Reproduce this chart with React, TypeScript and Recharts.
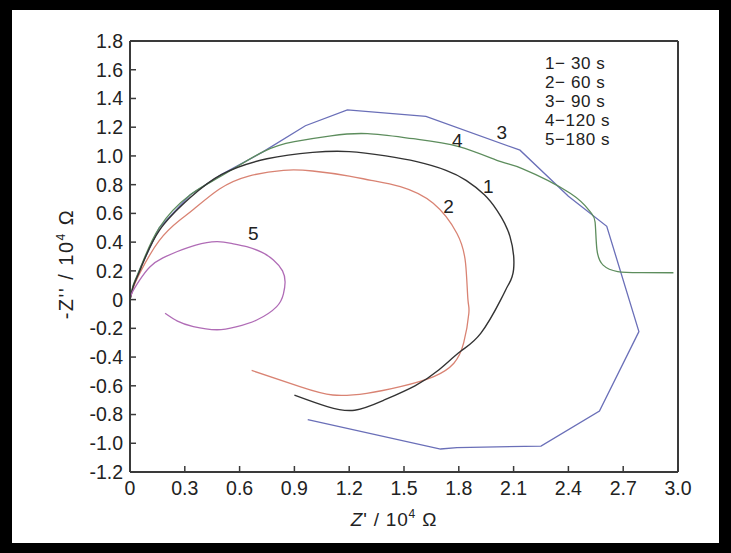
import React from "react";
import { LineChart, Line, XAxis, YAxis, ReferenceLine, ReferenceDot } from "recharts";

type Pt = { x: number; y: number };
const toPts = (rows: number[][]): Pt[] => rows.map(([x, y]) => ({ x, y }));

// Z' / Z'' (units 10^4 ohm)
const curve30s = toPts([
  [0, 0], [0.02, 0.1], [0.06, 0.22], [0.16, 0.48], [0.33, 0.71], [0.5, 0.87],
  [0.75, 0.98], [1.0, 1.025], [1.2, 1.03], [1.4, 1.0], [1.57, 0.96], [1.73, 0.9],
  [1.84, 0.83], [1.94, 0.73], [2.01, 0.62], [2.08, 0.44], [2.1, 0.21], [2.07, 0.1],
  [2.03, 0.0], [1.92, -0.235], [1.81, -0.36], [1.69, -0.49], [1.56, -0.6],
  [1.39, -0.7], [1.23, -0.77], [1.08, -0.745], [0.9, -0.665],
]);

const curve60s = toPts([
  [0, 0], [0.02, 0.09], [0.06, 0.2], [0.16, 0.41], [0.27, 0.55], [0.35, 0.63],
  [0.49, 0.77], [0.65, 0.86], [0.84, 0.9], [1.0, 0.895], [1.2, 0.86], [1.32, 0.83],
  [1.48, 0.786], [1.66, 0.67], [1.79, 0.46], [1.837, 0.253], [1.85, 0.0],
  [1.855, -0.095], [1.827, -0.3], [1.773, -0.443], [1.663, -0.536], [1.48, -0.606],
  [1.296, -0.652], [1.11, -0.664], [0.93, -0.606], [0.666, -0.493],
]);

const curve90s = toPts([
  [0, 0], [0.02, 0.1], [0.06, 0.23], [0.16, 0.5], [0.33, 0.73], [0.5, 0.87],
  [0.73, 1.03], [0.96, 1.21], [1.19, 1.32], [1.62, 1.275], [2.135, 1.04],
  [2.4, 0.72], [2.61, 0.51], [2.786, -0.223], [2.57, -0.775], [2.25, -1.02],
  [1.79, -1.03], [1.7, -1.04], [0.973, -0.836],
]);

const curve120s = toPts([
  [0, 0], [0.02, 0.11], [0.06, 0.23], [0.16, 0.5], [0.33, 0.73], [0.5, 0.86],
  [0.73, 1.03], [0.9, 1.1], [1.1, 1.14], [1.3, 1.155], [1.55, 1.12], [1.8, 1.065],
  [2.03, 0.96], [2.15, 0.91], [2.41, 0.74], [2.52, 0.61], [2.546, 0.54],
  [2.556, 0.35], [2.59, 0.24], [2.67, 0.195], [2.8, 0.188], [2.975, 0.187],
]);

const curve180s = toPts([
  [0, 0], [0.01, 0.044], [0.05, 0.13], [0.11, 0.229], [0.18, 0.29], [0.256, 0.333],
  [0.36, 0.38], [0.475, 0.403], [0.56, 0.39], [0.639, 0.368], [0.72, 0.33],
  [0.785, 0.276], [0.835, 0.2], [0.849, 0.12], [0.84, 0.04], [0.803, -0.049],
  [0.694, -0.142], [0.58, -0.19], [0.475, -0.21], [0.347, -0.188], [0.26, -0.15],
  [0.192, -0.095],
]);

const xTicks = [0, 0.3, 0.6, 0.9, 1.2, 1.5, 1.8, 2.1, 2.4, 2.7, 3.0];
const yTicks = [-1.2, -1.0, -0.8, -0.6, -0.4, -0.2, 0, 0.2, 0.4, 0.6, 0.8, 1.0, 1.2, 1.4, 1.6, 1.8];

const legendLines = ["1\u2212 30 s", "2\u2212 60 s", "3\u2212 90 s", "4\u2212120 s", "5\u2212180 s"];

const curveTags = [
  { id: "1", x: 1.962, y: 0.786 },
  { id: "2", x: 1.744, y: 0.647 },
  { id: "3", x: 2.036, y: 1.168 },
  { id: "4", x: 1.792, y: 1.111 },
  { id: "5", x: 0.675, y: 0.461 },
];

const FONT = '"Liberation Sans", Arial, sans-serif';
const AXIS = "#3a3a3a";
const TEXT = "#222";

const fmt = (v: number) => (v === 0 ? "0" : v.toFixed(1));

export default function App() {
  return (
    <div
      style={{
        position: "absolute",
        left: 0,
        top: 0,
        width: 731,
        height: 553,
        background: "#000",
        fontFamily: FONT,
      }}
    >
      <div style={{ position: "absolute", left: 12, top: 10, right: 12, bottom: 10, background: "#fff" }} />
      <div style={{ position: "absolute", left: 0, top: 0 }}>
        <LineChart width={731} height={553} margin={{ top: 41, right: 53, bottom: 51, left: 80 }}>
          <XAxis
            type="number"
            dataKey="x"
            domain={[0, 3]}
            ticks={xTicks}
            interval={0}
            allowDataOverflow
            tickFormatter={fmt}
            height={30}
            tickSize={-6}
            tickMargin={15}
            axisLine={{ stroke: AXIS, strokeWidth: 2 }}
            tickLine={{ stroke: AXIS, strokeWidth: 1.5 }}
            tick={{ fill: TEXT, fontSize: 19.5, fontFamily: FONT }}
          />
          <YAxis
            type="number"
            dataKey="y"
            domain={[-1.2, 1.8]}
            ticks={yTicks}
            interval={0}
            allowDataOverflow
            tickFormatter={fmt}
            width={50}
            tickSize={-6}
            tickMargin={13}
            axisLine={{ stroke: AXIS, strokeWidth: 2 }}
            tickLine={{ stroke: AXIS, strokeWidth: 1.5 }}
            tick={{ fill: TEXT, fontSize: 19.5, fontFamily: FONT }}
          />
          <ReferenceLine y={1.8} stroke={AXIS} strokeWidth={2} />
          <ReferenceLine x={3} stroke={AXIS} strokeWidth={2} />
          <Line data={curve90s} dataKey="y" type="linear" stroke="#6a6fb8" strokeWidth={1.3} dot={false} isAnimationActive={false} />
          <Line data={curve120s} dataKey="y" type="natural" stroke="#5d8d5d" strokeWidth={1.3} dot={false} isAnimationActive={false} />
          <Line data={curve60s} dataKey="y" type="natural" stroke="#d98373" strokeWidth={1.3} dot={false} isAnimationActive={false} />
          <Line data={curve30s} dataKey="y" type="natural" stroke="#333" strokeWidth={1.4} dot={false} isAnimationActive={false} />
          <Line data={curve180s} dataKey="y" type="natural" stroke="#b06cb6" strokeWidth={1.3} dot={false} isAnimationActive={false} />
          {curveTags.map((t) => (
            <ReferenceDot
              key={t.id}
              x={t.x}
              y={t.y}
              r={1}
              fill="none"
              stroke="none"
              label={{ value: t.id, position: "center", fill: TEXT, fontSize: 19, fontFamily: FONT }}
            />
          ))}
        </LineChart>
      </div>
      <svg width={731} height={553} style={{ position: "absolute", left: 0, top: 0, pointerEvents: "none" }}>
        {legendLines.map((s, i) => (
          <text key={s} x={545} y={69 + i * 19} fontSize={17} letterSpacing={0.6} fill={TEXT} fontFamily={FONT}>
            {s}
          </text>
        ))}
        <text x={394} y={526} fontSize={19} letterSpacing={0.8} fill={TEXT} fontFamily={FONT} textAnchor="middle">
          <tspan fontStyle="italic">Z</tspan>
          <tspan>{"' / 10"}</tspan>
          <tspan fontSize={12} dy={-8}>4</tspan>
          <tspan dy={8}>{" \u03A9"}</tspan>
        </text>
        <text
          x={0}
          y={0}
          fontSize={20}
          letterSpacing={1.5}
          fill={TEXT}
          fontFamily={FONT}
          textAnchor="middle"
          transform="translate(73 264) rotate(-90)"
        >
          <tspan>{"-Z'' / 10"}</tspan>
          <tspan fontSize={12} dy={-8}>4</tspan>
          <tspan dy={8}>{" \u03A9"}</tspan>
        </text>
      </svg>
    </div>
  );
}
